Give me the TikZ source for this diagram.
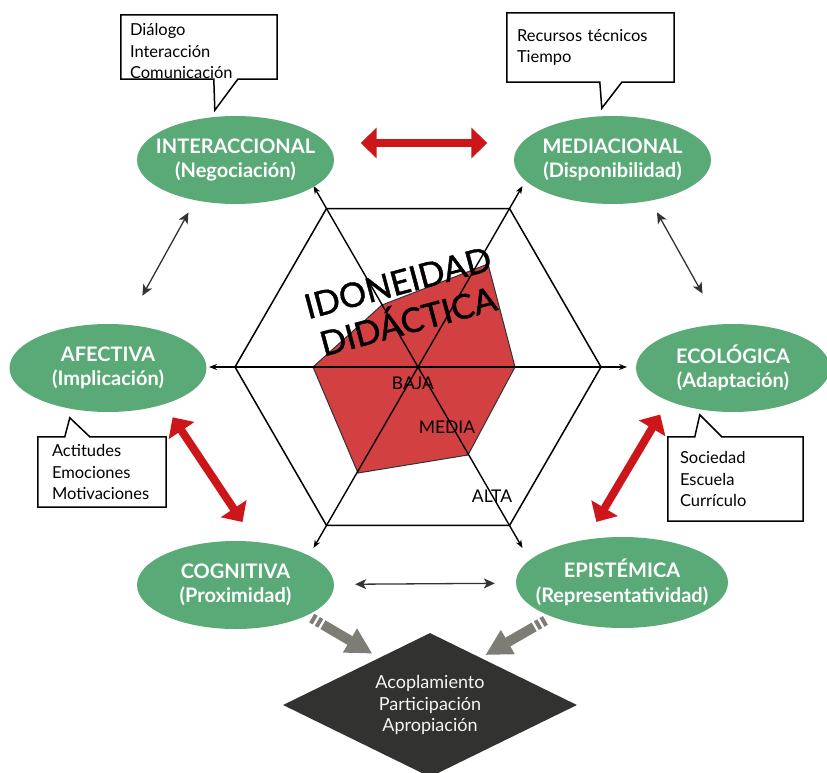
\documentclass[tikz,border=0pt]{standalone}
\usepackage{fontspec}
\setmainfont{Lato}
\newfontfamily\titlefont{Lato}[FakeBold=1.3]
\usetikzlibrary{shapes.geometric,arrows.meta,calc}
\definecolor{idgreen}{RGB}{90,170,120}
\definecolor{idred}{RGB}{205,22,26}
\definecolor{idfill}{RGB}{211,64,66}
\definecolor{idgray}{RGB}{125,125,118}
\definecolor{iddark}{RGB}{50,51,48}
\definecolor{idline}{RGB}{51,51,51}

\begin{document}
\begin{tikzpicture}[x=1pt, y=1pt,
    phase/.style={ellipse, fill=idgreen, minimum width=197pt, minimum height=88pt, inner sep=0pt},
    phasetext/.style={text=white, font=\fontsize{20}{24.5}\selectfont\bfseries, align=center},
    note/.style={font=\fontsize{16.5}{21.5}\selectfont, align=left, inner ysep=0pt},
    noteline/.style={draw=black, line width=1.5pt, fill=white},
    level/.style={font=\fontsize{17.5}{17.5}\selectfont},
    axisline/.style={line width=1.4pt, -{Stealth[length=8pt,width=6pt]}},
    thinarrow/.style={draw=idline, line width=1.3pt, {Stealth[length=11pt,width=10pt,inset=3pt]}-{Stealth[length=11pt,width=10pt,inset=3pt]}},
    redarrow/.style={draw=idred, line width=8pt, {Triangle[length=16pt,width=30pt]}-{Triangle[length=16pt,width=30pt]}},
    grayarrow/.style={draw=idgray, line width=10pt, dash pattern=on 4pt off 2.5pt on 4pt off 2.5pt on 300pt, -{Triangle[length=26pt,width=26pt]}}]
    \useasboundingbox (0,0) rectangle (827,-773);

    % Radar
    \coordinate (c) at (418,-367);
    \filldraw[fill=idfill, draw=idline, line width=1pt] (313,-367) -- (382,-305) -- (488,-264) -- (515,-367) -- (468,-455) -- (358,-473) -- cycle;
    \draw[line width=1.5pt] (c) +(0:183) -- +(60:183) -- +(120:183) -- +(180:183) -- +(240:183) -- +(300:183) -- cycle;
    \foreach \a in {0,60,...,300}
        \draw[axisline] (c) -- +(\a:209);
    \node[rotate=15, font=\titlefont\fontsize{34}{40}\selectfont, align=center] (title) at (403,-302) {IDONEIDAD\\DIDÁCTICA};
    \node[level] (baja) at (413,-383) {BAJA};
    \node[level] (media) at (447,-427) {MEDIA};
    \node[level] (alta) at (492,-496) {ALTA};

    % Phases
    \node[phase, label={[phasetext]center:{INTERACCIONAL\\(Negociación)}}] (inter) at (235.5,-160) {};
    \node[phase, label={[phasetext]center:{MEDIACIONAL\\(Disponibilidad)}}] (medi) at (612.5,-160) {};
    \node[phase, label={[phasetext]center:{AFECTIVA\\(Implicación)}}] (afec) at (108,-368) {};
    \node[phase, minimum width=194pt, label={[phasetext]center:{ECOLÓGICA\\(Adaptación)}}] (ecol) at (733,-368) {};
    \node[phase, label={[phasetext]center:{COGNITIVA\\(Proximidad)}}] (cogn) at (235.5,-585) {};
    \node[phase, minimum width=212pt, minimum height=91pt, label={[phasetext]center:{EPISTÉMICA\\(Representatividad)}}] (epis) at (622,-582.5) {};

    % Notes
    \node[note, text width=138pt, inner xsep=9pt, minimum height=64pt] (dlg) at (199,-47) {};
    \draw[noteline] (dlg.north west) -- (dlg.north east) -- (dlg.south east) -- ($(dlg.south west)+(117,0)$) -- ($(dlg.south west)+(94,-31)$) -- ($(dlg.south west)+(93,0)$) -- (dlg.south west) -- cycle;
    \node[note, text width=138pt, inner xsep=9pt, minimum height=64pt] at ([yshift=-4pt]dlg) {Diálogo\\Interacción\\Comunicación};

    \node[note, text width=147pt, inner xsep=10pt, minimum height=69pt] (rec) at (590.5,-47.5) {};
    \draw[noteline] (rec.north west) -- (rec.north east) -- (rec.south east) -- ($(rec.south west)+(115,0)$) -- ($(rec.south west)+(95,-26)$) -- ($(rec.south west)+(93,0)$) -- (rec.south west) -- cycle;
    \node[note, text width=147pt, inner xsep=10pt, minimum height=69pt] at (rec) {Recursos técnicos\\Tiempo};

    \node[note, text width=100pt, inner xsep=14pt, minimum height=70pt] (act) at (102,-472) {};
    \draw[noteline] (act.south west) -- (act.north west) -- ($(act.north west)+(27,0)$) -- ($(act.north west)+(32,19)$) -- ($(act.north west)+(52,0)$) -- (act.north east) -- (act.south east) -- cycle;
    \node[note, text width=100pt, inner xsep=14pt, minimum height=70pt] at (act) {Actitudes\\Emociones\\Motivaciones};

    \node[note, text width=111pt, inner xsep=12pt, minimum height=84pt] (soc) at (735.5,-479) {};
    \draw[noteline] (soc.south west) -- (soc.north west) -- ($(soc.north west)+(27,0)$) -- ($(soc.north west)+(32,22)$) -- ($(soc.north west)+(54,0)$) -- (soc.north east) -- (soc.south east) -- cycle;
    \node[note, text width=111pt, inner xsep=12pt, minimum height=84pt] at (soc) {Sociedad\\Escuela\\Currículo};

    % Outcome
    \node[diamond, fill=iddark, minimum width=294pt, minimum height=144pt, shape aspect=2, inner sep=0pt,
          text=white!92!gray, font=\fontsize{18}{21.5}\selectfont, align=center] (diam) at (430,-705) {Acoplamiento\\Participación\\Apropiación};

    % Arrows
    \draw[redarrow, shorten <=26.5pt, shorten >=26.5pt] ([yshift=17pt]inter.east) -- ([yshift=17pt]medi.west);
    \draw[redarrow, shorten <=15.5pt, shorten >=23.7pt] (afec.-33) -- (cogn.65);
    \draw[redarrow, shorten <=15.8pt, shorten >=20.5pt] (ecol.-153) -- (epis.130);
    \draw[thinarrow, shorten <=13.8pt, shorten >=33pt] (inter.-135) -- (afec.67);
    \draw[thinarrow, shorten <=13.2pt, shorten >=35pt] (medi.-47) -- (ecol.107);
    \draw[thinarrow, shorten <=21pt, shorten >=21pt] (cogn) -- (epis);
    \draw[grayarrow, shorten <=5.3pt, shorten >=8pt] (cogn.-23) -- (diam.137);
    \draw[grayarrow, shorten <=7.3pt, shorten >=5.3pt] (epis.-154) -- (diam.43);
\end{tikzpicture}
\end{document}
